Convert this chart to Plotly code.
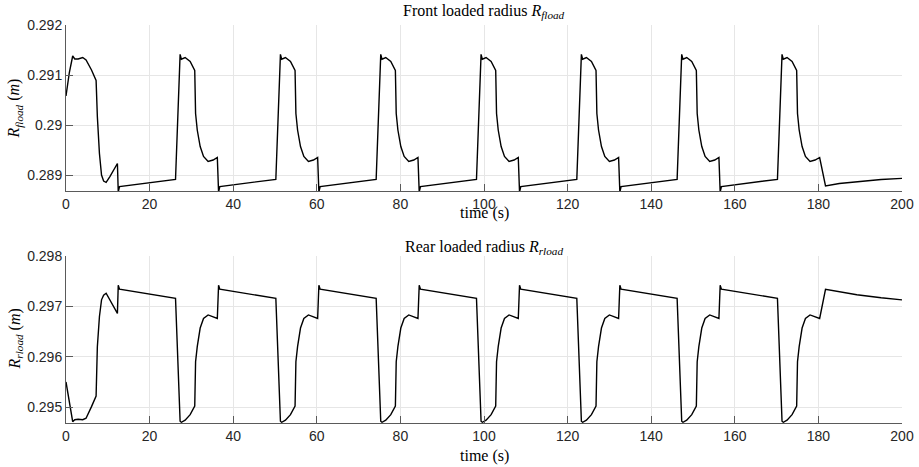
import plotly.graph_objects as go
from plotly.subplots import make_subplots

# time (s)
time_s = [
    0, 0.8, 1.6, 2.1, 2.9, 4.0, 4.8, 6.1, 7.2, 7.5, 8.0, 8.5, 9.0, 9.6, 10.5, 12.3, 12.5, 12.8,
    26.2, 27.3, 27.6, 28.5, 29.7, 30.8, 31.0, 31.4, 32.1, 32.9, 34.0, 35.2, 36.2, 36.5, 36.8,
    50.2, 51.3, 51.6, 52.5, 53.7, 54.8, 55.0, 55.4, 56.1, 56.9, 58.0, 59.2, 60.2, 60.5, 60.8,
    74.2, 75.3, 75.6, 76.5, 77.7, 78.8, 79.0, 79.4, 80.1, 80.9, 82.0, 83.2, 84.2, 84.5, 84.8,
    98.2, 99.3, 99.6, 100.5, 101.7, 102.8, 103.0, 103.4, 104.1, 104.9, 106.0, 107.2, 108.2, 108.5, 108.8,
    122.2, 123.3, 123.6, 124.5, 125.7, 126.8, 127.0, 127.4, 128.1, 128.9, 130.0, 131.2, 132.2, 132.5, 132.8,
    146.2, 147.3, 147.6, 148.5, 149.7, 150.8, 151.0, 151.4, 152.1, 152.9, 154.0, 155.2, 156.2, 156.5, 156.8,
    170.2, 171.3, 171.6, 172.5, 173.7, 174.8, 175.0, 175.4, 176.1, 176.9, 178.0, 179.2, 180.3, 181.7,
    185.0, 189.2, 195.0, 200.0,
]

# Front loaded radius (m)
r_fload = [
    0.29058, 0.29105, 0.29138, 0.29132, 0.29132, 0.29135, 0.29130, 0.29110, 0.29089, 0.29017,
    0.28943, 0.28900, 0.28888, 0.288855, 0.28897, 0.28923, 0.28866, 0.28877,
    0.288913, 0.291413, 0.291315, 0.29135, 0.29127, 0.29109, 0.29023, 0.2899, 0.28957, 0.28937, 0.28927, 0.2893, 0.28935, 0.28866, 0.28877,
    0.288913, 0.291413, 0.291315, 0.29135, 0.29127, 0.29109, 0.29023, 0.2899, 0.28957, 0.28937, 0.28927, 0.2893, 0.28935, 0.28866, 0.28877,
    0.288913, 0.291413, 0.291315, 0.29135, 0.29127, 0.29109, 0.29023, 0.2899, 0.28957, 0.28937, 0.28927, 0.2893, 0.28935, 0.28866, 0.28877,
    0.288913, 0.291413, 0.291315, 0.29135, 0.29127, 0.29109, 0.29023, 0.2899, 0.28957, 0.28937, 0.28927, 0.2893, 0.28935, 0.28866, 0.28877,
    0.288913, 0.291413, 0.291315, 0.29135, 0.29127, 0.29109, 0.29023, 0.2899, 0.28957, 0.28937, 0.28927, 0.2893, 0.28935, 0.28866, 0.28877,
    0.288913, 0.291413, 0.291315, 0.29135, 0.29127, 0.29109, 0.29023, 0.2899, 0.28957, 0.28937, 0.28927, 0.2893, 0.28935, 0.28866, 0.28877,
    0.288913, 0.291413, 0.291315, 0.29135, 0.29127, 0.29109, 0.29023, 0.2899, 0.28957, 0.28937, 0.28927, 0.2893, 0.28935, 0.28878,
    0.28883, 0.288867, 0.28891, 0.288933,
]

# Rear loaded radius (m)
r_rload = [
    0.29550, 0.29510, 0.29471, 0.29475, 0.29476, 0.29475, 0.29478, 0.29501, 0.29522, 0.29620,
    0.29680, 0.29713, 0.29722, 0.29726, 0.29713, 0.29686, 0.29742, 0.29734,
    0.29716, 0.29472, 0.2947, 0.29474, 0.29485, 0.29502, 0.2959, 0.2962, 0.29657, 0.29676, 0.29683, 0.2968, 0.29676, 0.29742, 0.29734,
    0.29716, 0.29472, 0.2947, 0.29474, 0.29485, 0.29502, 0.2959, 0.2962, 0.29657, 0.29676, 0.29683, 0.2968, 0.29676, 0.29742, 0.29734,
    0.29716, 0.29472, 0.2947, 0.29474, 0.29485, 0.29502, 0.2959, 0.2962, 0.29657, 0.29676, 0.29683, 0.2968, 0.29676, 0.29742, 0.29734,
    0.29716, 0.29472, 0.2947, 0.29474, 0.29485, 0.29502, 0.2959, 0.2962, 0.29657, 0.29676, 0.29683, 0.2968, 0.29676, 0.29742, 0.29734,
    0.29716, 0.29472, 0.2947, 0.29474, 0.29485, 0.29502, 0.2959, 0.2962, 0.29657, 0.29676, 0.29683, 0.2968, 0.29676, 0.29742, 0.29734,
    0.29716, 0.29472, 0.2947, 0.29474, 0.29485, 0.29502, 0.2959, 0.2962, 0.29657, 0.29676, 0.29683, 0.2968, 0.29676, 0.29742, 0.29734,
    0.29716, 0.29472, 0.2947, 0.29474, 0.29485, 0.29502, 0.2959, 0.2962, 0.29657, 0.29676, 0.29683, 0.2968, 0.29676, 0.29734,
    0.29729, 0.29723, 0.29717, 0.29713,
]

x_ticks = [0, 20, 40, 60, 80, 100, 120, 140, 160, 180, 200]
front_ticks = [0.289, 0.290, 0.291, 0.292]
front_tick_text = ["0.289", "0.29", "0.291", "0.292"]
rear_ticks = [0.295, 0.296, 0.297, 0.298]
rear_tick_text = ["0.295", "0.296", "0.297", "0.298"]

fig = make_subplots(rows=2, cols=1)
fig.add_trace(go.Scatter(x=time_s, y=r_fload, mode="lines",
                         line=dict(color="black", width=1.4)), row=1, col=1)
fig.add_trace(go.Scatter(x=time_s, y=r_rload, mode="lines",
                         line=dict(color="black", width=1.4)), row=2, col=1)

tick_font = dict(family="Liberation Sans, Arial, sans-serif", size=14, color="#262626")
axis_common = dict(showline=True, linecolor="#5a5a5a", linewidth=1, ticks="inside",
                   ticklen=7, tickcolor="#5a5a5a", showgrid=True, gridcolor="#e6e6e6",
                   gridwidth=1, zeroline=False, tickfont=tick_font, mirror=False,
                   automargin=False)

fig.update_xaxes(range=[0, 200], tickvals=x_ticks, **axis_common)
fig.update_yaxes(**axis_common)
fig.update_layout(
    xaxis=dict(domain=[0, 1]),
    yaxis=dict(domain=[0.5829, 1], range=[0.28868, 0.292], tickvals=front_ticks, ticktext=front_tick_text),
    xaxis2=dict(domain=[0, 1]),
    yaxis2=dict(domain=[0, 0.4196], range=[0.294685, 0.298], tickvals=rear_ticks, ticktext=rear_tick_text),
)

serif = dict(family="Liberation Serif, DejaVu Serif, serif", size=16, color="black")
ann = [
    dict(text="Front loaded radius <i>R</i><sub><i>fload</i></sub>", x=0.5, y=1.033),
    dict(text="time (s)", x=0.5, y=0.527),
    dict(text="Rear loaded radius <i>R</i><sub><i>rload</i></sub>", x=0.5, y=0.442),
    dict(text="time (s)", x=0.5, y=-0.083),
]
for a in ann:
    fig.add_annotation(xref="paper", yref="paper", showarrow=False, xanchor="center",
                       yanchor="middle", font=serif, **a)
fig.add_annotation(text="<i>R</i><sub><i>fload</i></sub> (<i>m</i>)", xref="paper", yref="paper",
                   x=-0.061, y=0.79, textangle=-90, showarrow=False, font=serif,
                   xanchor="center", yanchor="middle")
fig.add_annotation(text="<i>R</i><sub><i>rload</i></sub> (<i>m</i>)", xref="paper", yref="paper",
                   x=-0.061, y=0.21, textangle=-90, showarrow=False, font=serif,
                   xanchor="center", yanchor="middle")

fig.update_layout(width=919, height=467, margin=dict(l=66, r=17, t=25, b=44),
                  plot_bgcolor="white", paper_bgcolor="white", showlegend=False)

# remove the default page margin so the figure sits at the window's top-left corner
fig.write_html("out.html", config={"displayModeBar": False},
               post_script="document.body.style.margin='0';")
